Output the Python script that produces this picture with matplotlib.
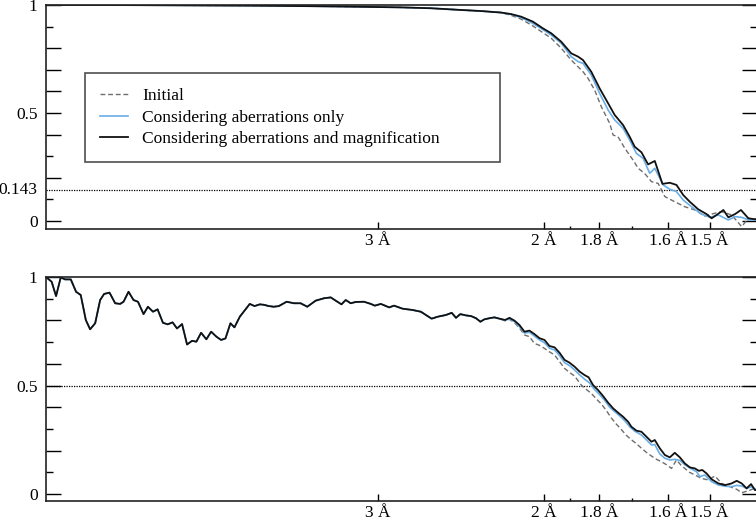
import matplotlib
matplotlib.use('Agg')
import matplotlib.pyplot as plt
import matplotlib.transforms as mtransforms
from matplotlib.ticker import FixedLocator, FixedFormatter
import numpy as np

plt.rcParams['font.family'] = ['Liberation Serif', 'DejaVu Serif']
plt.rcParams['font.size'] = 12.5

# ---------------- axis labels / ticks ----------------
res_major = [3.0, 2.0, 1.8, 1.6, 1.5]          # resolution (Å) of labelled ticks
res_labels = ['3 Å', '2 Å', '1.8 Å', '1.6 Å', '1.5 Å']
res_minor = [1.9, 1.7]
res_nyquist = 1.4
legend_labels = ['Initial', 'Considering aberrations only',
                 'Considering aberrations and magnification']
thresholds = [0.143, 0.5]

# ---------------- top panel data (spatial frequency 1/Å, FSC) ----------------
top_freq_common = [0.0000, 0.0544, 0.1047, 0.1551, 0.2054, 0.2558, 0.2961, 0.3263,
                   0.3565, 0.3867, 0.4169, 0.4371, 0.4572]
top_fsc_common = [1.000, 1.000, 0.999, 0.998, 0.997, 0.995, 0.993, 0.991,
                  0.989, 0.985, 0.977, 0.972, 0.965]

top_freq_full = [0.4673, 0.4773, 0.4891, 0.4992, 0.5076, 0.5176, 0.5277, 0.5345, 0.5395, 0.5478,
                 0.5562, 0.5647, 0.5713, 0.5798, 0.5864, 0.5914, 0.5982, 0.6049, 0.6116, 0.6193,
                 0.6267, 0.6334, 0.6402, 0.6468, 0.6553, 0.6636, 0.6687, 0.6737, 0.6805, 0.6855,
                 0.6922, 0.6982, 0.7056, 0.7123, 0.7150]
top_fsc_full = [0.958, 0.946, 0.923, 0.892, 0.869, 0.830, 0.776, 0.761, 0.745, 0.691,
                0.614, 0.545, 0.491, 0.444, 0.390, 0.344, 0.318, 0.262, 0.278, 0.172,
                0.177, 0.167, 0.120, 0.089, 0.054, 0.032, 0.0125, 0.028, 0.051, 0.017,
                0.032, 0.051, 0.0125, 0.008, 0.012]

top_freq_aberr = [0.4673, 0.4773, 0.4891, 0.4992, 0.5076, 0.5176, 0.5277, 0.5345, 0.5395, 0.5478,
                  0.5562, 0.5647, 0.5713, 0.5798, 0.5864, 0.5932, 0.5999, 0.6065, 0.6116, 0.6200,
                  0.6267, 0.6334, 0.6402, 0.6485, 0.6586, 0.6670, 0.6754, 0.6855, 0.6922, 0.6989,
                  0.7056, 0.7123, 0.7150]
top_fsc_aberr = [0.956, 0.942, 0.915, 0.886, 0.861, 0.823, 0.761, 0.738, 0.730, 0.676,
                 0.591, 0.514, 0.468, 0.429, 0.375, 0.313, 0.290, 0.221, 0.244, 0.167,
                 0.147, 0.136, 0.097, 0.066, 0.032, 0.017, 0.028, 0.005, 0.020, 0.017,
                 0.005, 0.005, 0.005]

top_freq_init = [0.4673, 0.4773, 0.4891, 0.4992, 0.5076, 0.5176, 0.5277, 0.5345, 0.5395, 0.5445,
                 0.5512, 0.5579, 0.5663, 0.5697, 0.5747, 0.5814, 0.5898, 0.5949, 0.6015, 0.6083,
                 0.6150, 0.6217, 0.6317, 0.6418, 0.6519, 0.6619, 0.6720, 0.6788, 0.6888, 0.6989,
                 0.7056, 0.7123, 0.7150]
top_fsc_init = [0.952, 0.935, 0.903, 0.872, 0.846, 0.800, 0.745, 0.714, 0.691, 0.661,
                0.606, 0.529, 0.452, 0.398, 0.390, 0.337, 0.282, 0.244, 0.220, 0.182,
                0.174, 0.113, 0.089, 0.066, 0.051, 0.023, 0.036, 0.043, 0.028, -0.026,
                0.0125, 0.005, 0.000]

# ---------------- bottom panel data ----------------
bot_freq_common = [0.0000, 0.0057, 0.0101, 0.0148, 0.0191, 0.0249, 0.0302, 0.0349, 0.0400, 0.0443,
                   0.0494, 0.0544, 0.0584, 0.0638, 0.0695, 0.0745, 0.0779, 0.0829, 0.0879, 0.0924,
                   0.0980, 0.1024, 0.1075, 0.1121, 0.1175, 0.1222, 0.1272, 0.1316, 0.1367, 0.1417,
                   0.1467, 0.1511, 0.1558, 0.1611, 0.1659, 0.1712, 0.1759, 0.1803, 0.1853, 0.1893,
                   0.1947, 0.1994, 0.2047, 0.2095, 0.2148, 0.2188, 0.2239, 0.2289, 0.2339, 0.2417,
                   0.2491, 0.2558, 0.2625, 0.2709, 0.2793, 0.2860, 0.2928, 0.2968, 0.3011, 0.3061,
                   0.3112, 0.3195, 0.3263, 0.3303, 0.3364, 0.3447, 0.3497, 0.3582, 0.3683, 0.3766,
                   0.3817, 0.3874, 0.3935, 0.4018, 0.4076, 0.4119, 0.4162, 0.4220, 0.4270, 0.4320,
                   0.4364, 0.4404, 0.4454, 0.4505, 0.4555]
bot_fsc_common = [1.000, 0.978, 0.912, 0.998, 0.989, 0.989, 0.932, 0.917, 0.802, 0.759,
                  0.787, 0.894, 0.922, 0.928, 0.879, 0.876, 0.886, 0.932, 0.894, 0.886,
                  0.829, 0.863, 0.840, 0.851, 0.789, 0.782, 0.791, 0.763, 0.783, 0.689,
                  0.706, 0.702, 0.743, 0.713, 0.748, 0.725, 0.710, 0.717, 0.787, 0.768,
                  0.817, 0.845, 0.876, 0.866, 0.874, 0.872, 0.866, 0.863, 0.866, 0.886,
                  0.879, 0.879, 0.863, 0.891, 0.902, 0.906, 0.886, 0.874, 0.894, 0.879,
                  0.885, 0.886, 0.876, 0.868, 0.876, 0.860, 0.868, 0.854, 0.848, 0.840,
                  0.825, 0.808, 0.817, 0.825, 0.835, 0.812, 0.829, 0.823, 0.820, 0.810,
                  0.794, 0.805, 0.810, 0.814, 0.808]

bot_freq_full = [0.4612, 0.4656, 0.4706, 0.4756, 0.4807, 0.4857, 0.4907, 0.4958, 0.5008, 0.5058,
                 0.5109, 0.5159, 0.5210, 0.5260, 0.5310, 0.5361, 0.5411, 0.5451, 0.5496, 0.5546,
                 0.5596, 0.5647, 0.5697, 0.5747, 0.5798, 0.5848, 0.5881, 0.5932, 0.5982, 0.6032,
                 0.6083, 0.6116, 0.6166, 0.6217, 0.6267, 0.6317, 0.6368, 0.6418, 0.6468, 0.6519,
                 0.6559, 0.6593, 0.6636, 0.6687, 0.6754, 0.6821, 0.6888, 0.6939, 0.6989, 0.7039,
                 0.7083, 0.7123, 0.7150]
bot_fsc_full = [0.802, 0.812, 0.799, 0.779, 0.748, 0.753, 0.737, 0.718, 0.710, 0.682,
                0.676, 0.651, 0.618, 0.605, 0.587, 0.564, 0.548, 0.538, 0.502, 0.479,
                0.452, 0.421, 0.395, 0.375, 0.356, 0.333, 0.310, 0.292, 0.287, 0.264,
                0.241, 0.249, 0.211, 0.180, 0.169, 0.190, 0.169, 0.141, 0.123, 0.118,
                0.107, 0.111, 0.095, 0.068, 0.049, 0.041, 0.049, 0.061, 0.049, 0.026,
                0.046, 0.018, 0.020]

bot_freq_aberr = [0.4612, 0.4656, 0.4706, 0.4756, 0.4807, 0.4857, 0.4907, 0.4958, 0.5008, 0.5058,
                  0.5109, 0.5159, 0.5210, 0.5260, 0.5310, 0.5361, 0.5411, 0.5461, 0.5512, 0.5562,
                  0.5612, 0.5663, 0.5713, 0.5763, 0.5814, 0.5864, 0.5914, 0.5982, 0.6032, 0.6083,
                  0.6116, 0.6166, 0.6217, 0.6267, 0.6317, 0.6368, 0.6418, 0.6468, 0.6536, 0.6569,
                  0.6619, 0.6687, 0.6754, 0.6821, 0.6888, 0.6939, 0.6989, 0.7039, 0.7090, 0.7140,
                  0.7150]
bot_fsc_aberr = [0.800, 0.808, 0.795, 0.772, 0.742, 0.745, 0.728, 0.710, 0.697, 0.672,
                 0.664, 0.638, 0.605, 0.592, 0.572, 0.549, 0.529, 0.512, 0.481, 0.458,
                 0.432, 0.400, 0.380, 0.360, 0.338, 0.310, 0.290, 0.272, 0.250, 0.226,
                 0.228, 0.185, 0.165, 0.157, 0.160, 0.155, 0.135, 0.120, 0.103, 0.080,
                 0.088, 0.057, 0.042, 0.036, 0.034, 0.040, 0.037, 0.026, 0.034, 0.018,
                 0.020]

bot_freq_init = [0.4612, 0.4656, 0.4706, 0.4756, 0.4807, 0.4857, 0.4907, 0.4958, 0.5008, 0.5058,
                 0.5109, 0.5159, 0.5210, 0.5260, 0.5310, 0.5378, 0.5428, 0.5478, 0.5529, 0.5579,
                 0.5629, 0.5680, 0.5730, 0.5780, 0.5831, 0.5881, 0.5932, 0.5982, 0.6032, 0.6083,
                 0.6133, 0.6183, 0.6234, 0.6284, 0.6334, 0.6385, 0.6418, 0.6465, 0.6519, 0.6586,
                 0.6654, 0.6720, 0.6788, 0.6838, 0.6888, 0.6939, 0.6989, 0.7073, 0.7140, 0.7150]
bot_fsc_init = [0.798, 0.805, 0.790, 0.765, 0.733, 0.725, 0.694, 0.685, 0.671, 0.655,
                0.641, 0.610, 0.579, 0.560, 0.544, 0.502, 0.482, 0.464, 0.438, 0.415,
                0.385, 0.350, 0.322, 0.297, 0.270, 0.250, 0.232, 0.211, 0.192, 0.175,
                0.160, 0.149, 0.135, 0.118, 0.157, 0.130, 0.118, 0.100, 0.088, 0.072,
                0.065, 0.083, 0.049, 0.040, 0.031, 0.022, 0.006, 0.018, 0.031, 0.030]

# ---------------- styles ----------------
c_init = '#6e6e6e'
c_aberr = '#6aaee6'
c_full = '#111111'

fig = plt.figure(figsize=(7.56, 5.2), dpi=100)
W, H = 756.0, 520.0
ax_top = fig.add_axes([46 / W, 1 - 229 / H, 711 / W, 224 / H])
ax_bot = fig.add_axes([46 / W, 1 - 501 / H, 711 / W, 224 / H])


def style_axis(ax, long_ticks, short_ticks, ymin):
    ax.set_xlim(0, 1 / res_nyquist)
    ax.set_ylim(ymin, 1.0)
    ax.xaxis.set_major_locator(FixedLocator([1 / r for r in res_major]))
    ax.xaxis.set_major_formatter(FixedFormatter(res_labels))
    ax.xaxis.set_minor_locator(FixedLocator([1 / r for r in res_minor]))
    ax.tick_params(axis='x', which='major', direction='in', length=5, width=1.0,
                   pad=3, top=False, labelsize=12.5)
    ax.tick_params(axis='x', which='minor', direction='in', length=2.5, width=1.0,
                   top=False)
    ax.yaxis.set_major_locator(FixedLocator(long_ticks))
    ax.yaxis.set_major_formatter(FixedFormatter(
        [('0' if t == 0 else '0.5' if t == 0.5 else '1' if t == 1 else '') for t in long_ticks]))
    ax.yaxis.set_minor_locator(FixedLocator(short_ticks))
    ax.tick_params(axis='y', which='major', direction='in', length=10.5, width=1.0,
                   pad=6, left=True, right=True, labelsize=12.5)
    ax.tick_params(axis='y', which='minor', direction='in', length=5, width=1.0,
                   left=True, right=True)
    for s in ax.spines.values():
        s.set_linewidth(1.2)
        s.set_color('#222222')


style_axis(ax_top, [0, 0.2, 0.4, 0.5, 0.6, 0.7, 0.8, 1.0], [0.1, 0.3, 0.9], -0.037)
style_axis(ax_bot, [0, 0.2, 0.4, 0.5, 0.6, 0.8, 1.0], [0.1, 0.3, 0.7, 0.9], -0.032)

# top panel curves
l1, = ax_top.plot(top_freq_common + top_freq_init, top_fsc_common + top_fsc_init,
                  color=c_init, lw=1.0, ls=(0, (3.5, 2)))
l2, = ax_top.plot(top_freq_common + top_freq_aberr, top_fsc_common + top_fsc_aberr,
                  color=c_aberr, lw=1.2)
l3, = ax_top.plot(top_freq_common + top_freq_full, top_fsc_common + top_fsc_full,
                  color=c_full, lw=1.3)
ax_top.axhline(thresholds[0], color='k', lw=0.9, ls=(0, (1, 1)), zorder=1)
trans = mtransforms.blended_transform_factory(ax_top.transAxes, ax_top.transData)
ax_top.text(-8.5 / 711, thresholds[0], '0.143', transform=trans, ha='right', va='center',
            fontsize=12.5)

# bottom panel curves
ax_bot.plot(bot_freq_common + bot_freq_init, bot_fsc_common + bot_fsc_init,
            color=c_init, lw=1.0, ls=(0, (3.5, 2)))
ax_bot.plot(bot_freq_common + bot_freq_aberr, bot_fsc_common + bot_fsc_aberr,
            color=c_aberr, lw=1.2)
ax_bot.plot(bot_freq_common + bot_freq_full, bot_fsc_common + bot_fsc_full,
            color=c_full, lw=1.3)
ax_bot.axhline(thresholds[1], color='k', lw=0.9, ls=(0, (1, 1)), zorder=1)

leg_top = 1 - 68 / 224
leg = ax_top.legend([l1, l2, l3], legend_labels, loc='upper left',
                    bbox_to_anchor=(39 / 711, leg_top - 0.2, 415 / 711, 0.2),
                    mode='expand', borderaxespad=0, frameon=True, fancybox=False,
                    fontsize=12.5, handlelength=1.6, handletextpad=0.85,
                    labelspacing=0.32, borderpad=0.85)
leg.get_frame().set_edgecolor('#222222')
leg.get_frame().set_linewidth(1.2)

fig.savefig('out.png', dpi=100)
